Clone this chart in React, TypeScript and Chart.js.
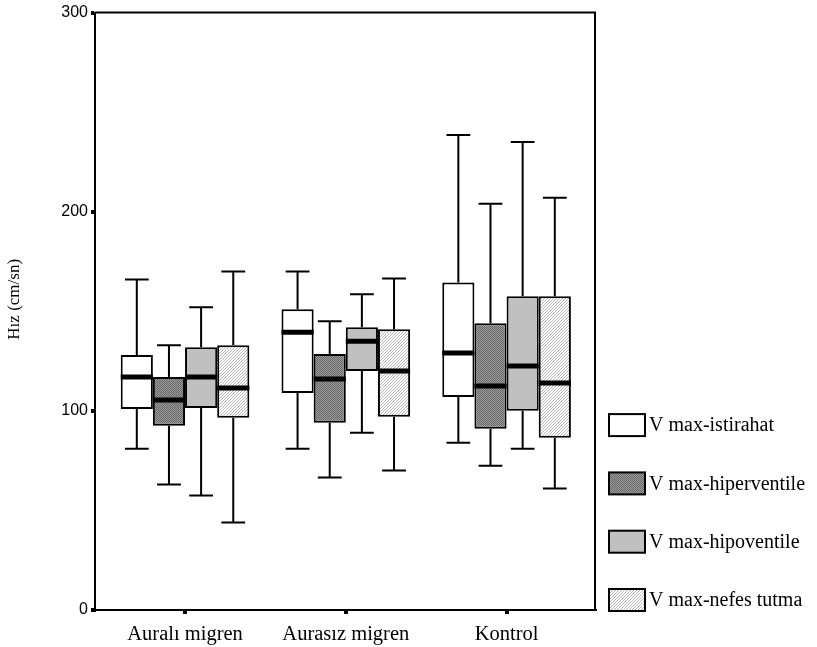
import React, { useEffect, useRef } from 'react';
import { Chart, registerables } from 'chart.js';

Chart.register(...registerables);

// ---- Data ----
const categories = ['Auralı migren', 'Aurasız migren', 'Kontrol'];
const seriesLabels = ['V max-istirahat', 'V max-hiperventile', 'V max-hipoventile', 'V max-nefes tutma'];
// rows = series, columns = categories
const lowerWhisker = [
  [81, 81, 84],
  [63, 66.5, 72.5],
  [57.5, 89, 81],
  [44, 70, 61],
];
const q1 = [
  [101, 109, 107],
  [92.5, 94, 91],
  [101.5, 120, 100],
  [96.5, 97, 86.5],
];
const median = [
  [117, 139.5, 129],
  [105.5, 116, 112.5],
  [117, 135, 122.5],
  [111.5, 120, 114],
];
const q3 = [
  [128, 151, 164.5],
  [117, 128.5, 144],
  [132, 142, 157.5],
  [133, 141, 157.5],
];
const upperWhisker = [
  [166, 170, 238.5],
  [133, 145, 204],
  [152, 158.5, 235],
  [170, 166.5, 207],
];
const yTicks = [0, 100, 200, 300];
const yTitle = 'Hız (cm/sn)';

const fills = ['white', 'dark', 'gray', 'hatch'];

function makeFill(kind: string): any {
  if (kind === 'white') return '#ffffff';
  if (kind === 'gray') return '#c0c0c0';
  const c = document.createElement('canvas');
  const g = c.getContext('2d')!;
  if (kind === 'dark') {
    c.width = 2;
    c.height = 2;
    g.fillStyle = '#9a9a9a';
    g.fillRect(0, 0, 2, 2);
    g.fillStyle = '#6a6a6a';
    g.fillRect(0, 0, 1, 1);
    g.fillRect(1, 1, 1, 1);
  } else {
    c.width = 3;
    c.height = 3;
    g.fillStyle = '#ffffff';
    g.fillRect(0, 0, 3, 3);
    g.fillStyle = '#b4b4b4';
    for (let i = 0; i < 3; i++) g.fillRect(2 - i, i, 1, 1);
  }
  return g.createPattern(c, 'repeat');
}

const boxPlugin = {
  id: 'boxWhiskers',
  afterDatasetsDraw(chart: any) {
    const ctx = chart.ctx;
    const y = chart.scales.y;
    chart.data.datasets.forEach((_ds: any, s: number) => {
      const meta = chart.getDatasetMeta(s);
      meta.data.forEach((bar: any, i: number) => {
        const { x, width } = bar.getProps(['x', 'width'], true);
        const cap = width * 0.74;
        const pQ1 = y.getPixelForValue(q1[s][i]);
        const pQ3 = y.getPixelForValue(q3[s][i]);
        const pMin = y.getPixelForValue(lowerWhisker[s][i]);
        const pMax = y.getPixelForValue(upperWhisker[s][i]);
        const pMed = y.getPixelForValue(median[s][i]);
        ctx.save();
        ctx.strokeStyle = '#000';
        ctx.lineWidth = 2;
        ctx.lineCap = 'butt';
        ctx.beginPath();
        ctx.moveTo(x, pQ3);
        ctx.lineTo(x, pMax);
        ctx.moveTo(x - cap / 2, pMax);
        ctx.lineTo(x + cap / 2, pMax);
        ctx.moveTo(x, pQ1);
        ctx.lineTo(x, pMin);
        ctx.moveTo(x - cap / 2, pMin);
        ctx.lineTo(x + cap / 2, pMin);
        ctx.stroke();
        ctx.lineWidth = 5;
        ctx.beginPath();
        ctx.moveTo(x - width / 2, pMed);
        ctx.lineTo(x + width / 2, pMed);
        ctx.stroke();
        ctx.restore();
      });
    });
  },
};

const framePlugin = {
  id: 'frameLegend',
  afterDraw(chart: any) {
    const ctx = chart.ctx;
    const a = chart.chartArea;
    ctx.save();
    ctx.strokeStyle = '#000';
    ctx.lineWidth = 2;
    ctx.beginPath();
    ctx.moveTo(a.left, a.top);
    ctx.lineTo(a.right, a.top);
    ctx.lineTo(a.right, a.bottom);
    ctx.stroke();

    // y-axis title
    ctx.save();
    ctx.translate(15, (a.top + a.bottom) / 2 - 12);
    ctx.rotate(-Math.PI / 2);
    ctx.font = '17px "Liberation Serif", "Times New Roman", serif';
    ctx.textAlign = 'center';
    ctx.textBaseline = 'middle';
    ctx.fillStyle = '#000';
    ctx.fillText(yTitle, 0, 0);
    ctx.restore();

    // legend
    const spacing = 58.3;
    const n = seriesLabels.length;
    const boxX = a.right + 14;
    const boxW = 36;
    const boxH = 22;
    ctx.font = '20px "Liberation Serif", "Times New Roman", serif';
    ctx.textBaseline = 'middle';
    ctx.textAlign = 'left';
    seriesLabels.forEach((label, i) => {
      const cy = a.bottom - 10 - (n - 1 - i) * spacing;
      const ds = chart.data.datasets[i];
      ctx.fillStyle = ds.backgroundColor;
      ctx.fillRect(boxX, cy - boxH / 2, boxW, boxH);
      ctx.lineWidth = 2;
      ctx.strokeStyle = '#000';
      ctx.strokeRect(boxX, cy - boxH / 2, boxW, boxH);
      ctx.fillStyle = '#000';
      ctx.fillText(label, boxX + boxW + 4, cy + 1);
    });
    ctx.restore();
  },
};

export default function App() {
  const ref = useRef<HTMLCanvasElement | null>(null);

  useEffect(() => {
    const canvas = ref.current;
    if (!canvas) return;
    const datasets = seriesLabels.map((label, s) => ({
      label,
      data: categories.map((_c, i) => ({ x: i + 1, y: [q1[s][i], q3[s][i]] })),
      backgroundColor: makeFill(fills[s]),
      borderColor: '#000',
      borderWidth: 2,
      borderSkipped: false,
      categoryPercentage: 0.8,
      barPercentage: 1,
    }));

    const chart = new Chart(canvas, {
      type: 'bar',
      data: { datasets: datasets as any },
      options: {
        animation: false,
        responsive: false,
        devicePixelRatio: 1,
        layout: { padding: { left: 0, top: 11, right: 222, bottom: 0 } },
        plugins: { legend: { display: false }, tooltip: { enabled: false } },
        scales: {
          x: {
            type: 'linear',
            min: 0.44,
            max: 3.55,
            offset: false,
            afterBuildTicks: (s: any) => {
              s.ticks = categories.map((_c, i) => ({ value: i + 1 }));
            },
            afterFit: (s: any) => {
              s.height = 37;
            },
            ticks: {
              callback: (_v: any, i: number) => categories[i],
              autoSkip: false,
              maxRotation: 0,
              padding: 8,
              color: '#000',
              font: { family: '"Liberation Serif", "Times New Roman", serif', size: 20.5 },
            },
            grid: {
              display: true,
              drawOnChartArea: false,
              drawTicks: true,
              offset: false,
              tickLength: 4,
              lineWidth: 4,
              color: '#000',
            },
            border: { display: true, color: '#000', width: 2 },
          },
          y: {
            type: 'linear',
            min: 0,
            max: 300,
            afterBuildTicks: (s: any) => {
              s.ticks = yTicks.map((v) => ({ value: v }));
            },
            afterFit: (s: any) => {
              s.width = 95;
            },
            ticks: {
              padding: 3,
              color: '#000',
              font: { family: '"Liberation Sans", Arial, sans-serif', size: 16 },
            },
            grid: {
              display: true,
              drawOnChartArea: false,
              drawTicks: true,
              tickLength: 4,
              lineWidth: 4,
              color: '#000',
            },
            border: { display: true, color: '#000', width: 2 },
          },
        },
      } as any,
      plugins: [boxPlugin, framePlugin],
    });
    return () => chart.destroy();
  }, []);

  return (
    <div style={{ position: 'absolute', left: 0, top: 0, width: 817, height: 647, background: '#fff' }}>
      <canvas ref={ref} width={817} height={647} style={{ display: 'block' }} />
    </div>
  );
}
